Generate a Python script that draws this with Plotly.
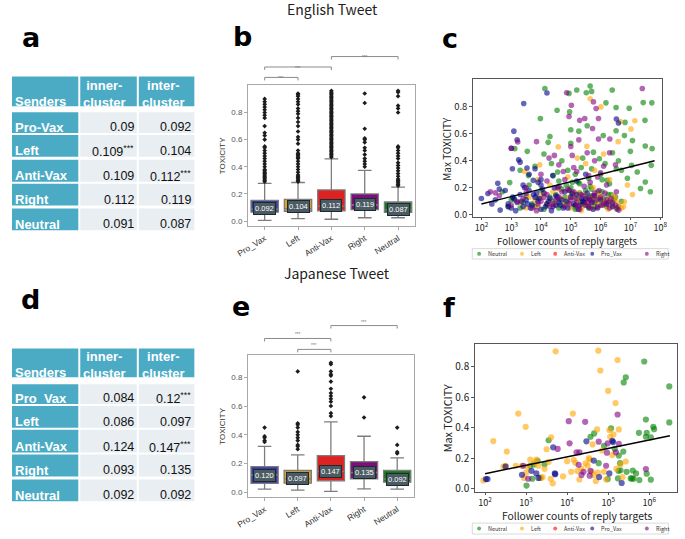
import plotly.graph_objects as go

W, H = 685, 539
def px(x): return x / W
def py(y): return 1 - y / H

# ---------------- data ----------------
senders_en = ["Pro-Vax", "Left", "Anti-Vax", "Right", "Neutral"]
inner_en = [0.09, 0.109, 0.109, 0.112, 0.091]
inner_en_sig = ["", "***", "", "", ""]
inter_en = [0.092, 0.104, 0.112, 0.119, 0.087]
inter_en_sig = ["", "", "***", "", ""]

senders_ja = ["Pro_Vax", "Left", "Anti-Vax", "Right", "Neutral"]
inner_ja = [0.084, 0.086, 0.124, 0.093, 0.092]
inner_ja_sig = ["", "", "", "", ""]
inter_ja = [0.12, 0.097, 0.147, 0.135, 0.092]
inter_ja_sig = ["***", "", "***", "", ""]

groups = ["Pro_Vax", "Left", "Anti-Vax", "Right", "Neutral"]
box_colors = ["#3a3aa8", "#e6a11f", "#dd2222", "#7b107b", "#0f780f"]

en_lower = [0.005, 0.017, 0.013, 0.024, 0.024]
en_q1 = [0.065, 0.072, 0.075, 0.084, 0.063]
en_median = [0.087, 0.092, 0.110, 0.118, 0.082]
en_q3 = [0.152, 0.159, 0.229, 0.200, 0.140]
en_upper = [0.277, 0.284, 0.458, 0.373, 0.250]
en_mean = [0.092, 0.104, 0.112, 0.119, 0.087]

ja_lower = [0.023, 0.016, 0.007, 0.025, 0.023]
ja_q1 = [0.062, 0.064, 0.080, 0.094, 0.071]
ja_median = [0.122, 0.094, 0.145, 0.138, 0.092]
ja_q3 = [0.179, 0.152, 0.255, 0.214, 0.152]
ja_upper = [0.320, 0.260, 0.490, 0.390, 0.240]
ja_mean = [0.120, 0.097, 0.147, 0.135, 0.092]

en_out_pro = [0.29, 0.30, 0.31, 0.32, 0.33, 0.34, 0.35, 0.36, 0.37, 0.38, 0.40, 0.42, 0.44, 0.46, 0.48,
              0.50, 0.52, 0.54, 0.55, 0.60, 0.63, 0.65, 0.70, 0.76, 0.78, 0.80, 0.82, 0.84, 0.86, 0.88, 0.90]
en_out_left = [0.29, 0.30, 0.31, 0.32, 0.33, 0.34, 0.36, 0.38, 0.40, 0.42, 0.44, 0.46, 0.47, 0.48, 0.49,
               0.50, 0.52, 0.57, 0.60, 0.62, 0.66, 0.70, 0.73, 0.76, 0.79, 0.81, 0.83, 0.86, 0.88, 0.90,
               0.92, 0.93, 0.94]
en_out_anti = [0.47, 0.48, 0.49, 0.50, 0.51, 0.52, 0.53, 0.54, 0.55, 0.56, 0.57, 0.58, 0.59, 0.60, 0.61,
               0.62, 0.63, 0.64, 0.65, 0.66, 0.67, 0.68, 0.69, 0.70, 0.71, 0.72, 0.73, 0.74, 0.75, 0.76,
               0.77, 0.78, 0.79, 0.80, 0.81, 0.82, 0.83, 0.84, 0.85, 0.86, 0.87, 0.88, 0.89, 0.90, 0.91,
               0.92, 0.93, 0.94, 0.95, 0.96]
en_out_right = [0.40, 0.42, 0.44, 0.46, 0.49, 0.52, 0.54, 0.58, 0.60, 0.61, 0.68, 0.87, 0.94]
en_out_neutral = [0.26, 0.27, 0.28, 0.29, 0.30, 0.31, 0.33, 0.35, 0.37, 0.39, 0.41, 0.43, 0.46, 0.48,
                  0.50, 0.52, 0.54, 0.55, 0.80, 0.83, 0.85, 0.92, 0.95, 0.96]

ja_out_pro = [0.35, 0.36, 0.38, 0.39, 0.45]
ja_out_left = [0.30, 0.32, 0.33, 0.36, 0.38, 0.40, 0.42, 0.45, 0.47, 0.48, 0.84]
ja_out_anti = [0.53, 0.55, 0.60, 0.63, 0.65, 0.67, 0.69, 0.72, 0.77, 0.81, 0.82, 0.84, 0.89, 0.90]
ja_out_right = [0.52, 0.66]
ja_out_neutral = [0.27, 0.28, 0.33, 0.45]

# scatter: log10(follower count) and max toxicity
scat_names = ["Neutral", "Left", "Anti-Vax", "Pro_Vax", "Right"]
scat_colors = ["#008000", "#ffa500", "#ff0000", "#00008b", "#800080"]

en_neutral_lx = [4.13, 5.65, 5.2, 6.39, 4.94, 5.52, 5.7, 7.43, 7.72, 6.96, 4.54, 6.18, 3.98, 4.96, 5.0, 5.27,
                 6.52, 6.82, 7.49, 7.73, 7.5, 7.7, 7.67, 7.23, 7.34, 7.5, 6.53, 5.96, 5.76, 4.56, 4.24,
                 3.54, 3.12, 2.95, 3.58, 6.09, 6.52, 6.8, 7.07, 7.04, 6.22, 5.55, 5.0, 4.3, 4.1, 3.3, 3.8,
                 4.7, 5.35, 5.6, 6.0, 6.4, 6.6, 7.0, 6.9, 5.3, 4.4, 2.7, 3.0,
                 2.9, 3.1, 3.3, 3.5, 3.7, 3.9, 4.0, 4.2, 4.4, 4.5, 4.6, 4.8, 4.9, 5.0, 5.1, 5.2, 5.3, 5.4,
                 5.5, 5.6, 5.7, 5.8, 5.9, 6.0, 6.1, 6.2, 6.3, 6.4, 6.5, 6.6, 3.6, 4.1, 4.7, 5.25, 5.45,
                 5.65, 5.85, 6.05, 6.25, 6.45,
                 3.4, 3.8, 4.3, 4.6, 4.75, 5.05, 5.15, 5.35, 5.5, 5.62, 5.8, 5.95, 6.15, 6.35, 6.55, 6.7,
                 4.85, 5.7, 6.05, 6.3, 4.9, 5.15, 5.4, 5.7, 6.15, 5.05, 4.6, 6.7, 4.35]
en_neutral_y = [0.937, 0.955, 0.925, 0.925, 0.90, 0.905, 0.915, 0.832, 0.83, 0.79, 0.775, 0.83, 0.714, 0.763,
                0.63, 0.62, 0.795, 0.685, 0.70, 0.49, 0.51, 0.366, 0.17, 0.317, 0.194, 0.243, 0.341, 0.415,
                0.464, 0.317, 0.537, 0.47, 0.49, 0.238, 0.29, 0.587, 0.623, 0.587, 0.55, 0.366, 0.255, 0.66,
                0.53, 0.58, 0.45, 0.33, 0.36, 0.40, 0.35, 0.27, 0.30, 0.46, 0.40, 0.47, 0.27, 0.23, 0.29,
                0.17, 0.11,
                0.06, 0.11, 0.05, 0.14, 0.08, 0.12, 0.18, 0.07, 0.10, 0.15, 0.05, 0.13, 0.09, 0.20, 0.06,
                0.12, 0.16, 0.08, 0.11, 0.05, 0.14, 0.09, 0.17, 0.07, 0.12, 0.06, 0.10, 0.08, 0.13, 0.06,
                0.22, 0.04, 0.19, 0.24, 0.07, 0.21, 0.10, 0.26, 0.15, 0.11,
                0.09, 0.06, 0.13, 0.11, 0.07, 0.15, 0.04, 0.10, 0.18, 0.13, 0.06, 0.12, 0.09, 0.15, 0.04,
                0.10, 0.22, 0.19, 0.17, 0.23, 0.33, 0.30, 0.42, 0.34, 0.38, 0.24, 0.25, 0.33, 0.38]

en_left_lx = [5.65, 6.01, 6.66, 7.15, 7.02, 6.59, 5.54, 4.58, 3.96, 3.45, 7.07, 6.8, 6.77, 5.22, 5.8, 4.9,
              6.3, 4.3, 5.5, 6.1, 3.9, 6.9,
              3.3, 3.6, 3.9, 4.1, 4.3, 4.5, 4.7, 4.9, 5.0, 5.1, 5.2, 5.3, 5.4, 5.5, 5.6, 5.7, 5.8, 5.9,
              6.0, 6.1, 6.2, 6.3, 6.4, 6.5, 6.6, 6.7, 4.6, 5.05, 5.35, 5.75,
              3.5, 3.8, 4.0, 4.2, 4.4, 4.8, 4.95, 5.15, 5.25, 5.45, 5.65, 5.85, 6.05, 6.25, 6.45]
en_left_y = [0.861, 0.80, 0.692, 0.697, 0.636, 0.542, 0.508, 0.503, 0.37, 0.32, 0.15, 0.096, 0.059, 0.42,
             0.33, 0.28, 0.26, 0.22, 0.38, 0.45, 0.26, 0.22,
             0.09, 0.13, 0.06, 0.16, 0.10, 0.07, 0.12, 0.18, 0.05, 0.14, 0.09, 0.11, 0.06, 0.15, 0.08,
             0.12, 0.05, 0.10, 0.14, 0.07, 0.09, 0.12, 0.06, 0.11, 0.08, 0.05, 0.19, 0.17, 0.03, 0.20,
             0.05, 0.11, 0.14, 0.08, 0.17, 0.09, 0.13, 0.07, 0.16, 0.10, 0.06, 0.15, 0.11, 0.04, 0.14]

en_anti_lx = []
en_anti_y = []

en_pro_lx = [4.2, 3.42, 3.09, 3.2, 3.0, 3.25, 3.3, 3.04, 3.53, 3.8, 2.55, 2.22, 2.0, 2.47, 2.63, 6.53, 3.74,
             3.9, 4.4, 2.6, 3.6, 4.0, 3.4, 2.8, 5.5, 6.6, 4.6, 5.2, 2.35, 2.9,
             2.9, 3.0, 3.1, 3.2, 3.3, 3.4, 3.5, 3.6, 3.7, 3.8, 3.9, 4.0, 4.1, 4.2, 4.3, 4.4, 4.5, 4.6,
             4.7, 4.8, 4.9, 5.0, 5.1, 5.2, 5.3, 5.4, 5.5, 5.6, 5.7, 5.8, 5.9, 6.0, 6.2, 6.4, 3.15, 3.45,
             3.75, 4.05, 4.35, 4.65, 4.95, 5.25, 5.55,
             3.05, 3.35, 3.55, 3.65, 3.85, 3.95, 4.15, 4.25, 4.45, 4.55, 4.75, 4.85, 5.05, 5.15, 5.35,
             5.45, 5.65, 5.75, 4.0, 4.5]
en_pro_y = [0.903, 0.825, 0.62, 0.555, 0.493, 0.407, 0.39, 0.341, 0.346, 0.341, 0.233, 0.157, 0.12, 0.11,
            0.034, 0.71, 0.255, 0.24, 0.29, 0.19, 0.30, 0.26, 0.22, 0.18, 0.30, 0.68, 0.21, 0.25, 0.08, 0.06,
            0.08, 0.05, 0.12, 0.09, 0.15, 0.06, 0.11, 0.18, 0.07, 0.13, 0.10, 0.04, 0.16, 0.08, 0.12, 0.06,
            0.14, 0.09, 0.11, 0.17, 0.05, 0.13, 0.08, 0.15, 0.07, 0.10, 0.12, 0.06, 0.09, 0.14, 0.05, 0.11,
            0.08, 0.06, 0.03, 0.20, 0.15, 0.19, 0.03, 0.07, 0.18, 0.04, 0.16,
            0.13, 0.10, 0.08, 0.05, 0.16, 0.12, 0.06, 0.10, 0.20, 0.13, 0.05, 0.10, 0.16, 0.07, 0.12,
            0.09, 0.11, 0.04, 0.22, 0.07]

en_right_lx = [7.4, 4.86, 5.02, 5.76, 5.85, 5.93, 4.94, 5.3, 5.47, 5.73, 5.93, 6.31, 5.27, 5.0, 5.55, 6.3,
               3.01, 3.22, 4.27, 2.47, 4.45, 6.53, 6.61, 3.85, 4.6, 5.1, 5.8, 6.0, 6.5, 4.0, 3.5, 5.6, 4.8,
               6.2, 2.3,
               2.6, 3.0, 3.4, 3.7, 4.0, 4.2, 4.4, 4.6, 4.8, 5.0, 5.1, 5.2, 5.3, 5.4, 5.5, 5.6, 5.7, 5.8,
               5.9, 6.0, 6.1, 6.2, 6.3, 6.4, 6.5, 4.9, 5.45, 5.95, 3.85, 4.55,
               3.2, 3.5, 3.9, 4.1, 4.3, 4.5, 4.7, 4.95, 5.15, 5.25, 5.35, 5.55, 5.65, 5.75, 5.85, 6.05,
               6.15, 6.25, 6.35, 6.55, 5.2, 5.65, 5.05, 4.75, 6.1, 5.9, 4.2]
en_right_y = [0.937, 0.905, 0.812, 0.837, 0.788, 0.714, 0.729, 0.70, 0.714, 0.64, 0.562, 0.562, 0.555, 0.506,
              0.459, 0.46, 0.493, 0.54, 0.42, 0.162, 0.44, 0.17, 0.034, 0.542, 0.37, 0.35, 0.40, 0.31, 0.37,
              0.30, 0.20, 0.29, 0.26, 0.22, 0.17,
              0.14, 0.07, 0.12, 0.05, 0.10, 0.15, 0.08, 0.13, 0.06, 0.11, 0.17, 0.09, 0.04, 0.14, 0.07, 0.12,
              0.10, 0.16, 0.06, 0.13, 0.08, 0.11, 0.05, 0.09, 0.07, 0.19, 0.21, 0.18, 0.03, 0.20,
              0.10, 0.16, 0.08, 0.13, 0.06, 0.11, 0.17, 0.08, 0.12, 0.06, 0.15, 0.09, 0.05, 0.14, 0.11,
              0.07, 0.16, 0.09, 0.12, 0.05, 0.32, 0.24, 0.44, 0.32, 0.36, 0.28, 0.25]

ja_neutral_lx = [5.88, 5.43, 5.38, 6.49, 5.92, 6.49, 6.1, 6.12, 5.75, 5.94, 5.92, 6.04, 4.66, 5.07, 4.57, 3.55,
                 3.01, 5.26, 5.37, 5.29, 4.99, 5.24, 5.55, 5.58, 5.62, 5.76, 6.04, 5.6, 5.68, 5.94, 4.77, 5.25,
                 3.19, 3.28, 3.15, 3.35, 3.45, 4.9, 5.16, 3.1, 5.3, 5.45]
ja_neutral_y = [0.833, 0.73, 0.696, 0.67, 0.453, 0.434, 0.405, 0.39, 0.366, 0.366, 0.34, 0.336, 0.362, 0.395,
                0.34, 0.317, 0.02, 0.217, 0.243, 0.167, 0.063, 0.067, 0.067, 0.067, 0.065, 0.056, 0.059,
                0.119, 0.10, 0.098, 0.167, 0.117, 0.158, 0.182, 0.065, 0.07, 0.16, 0.28, 0.26, 0.15, 0.12, 0.11]

ja_left_lx = [3.72, 4.76, 5.23, 4.81, 5.0, 5.18, 2.81, 4.14, 2.99, 2.2, 2.53, 3.61, 4.73, 5.03, 5.26, 5.05,
              5.13, 3.5, 5.43, 4.16, 4.53, 1.96, 2.5, 2.75, 2.9, 3.0, 3.1, 3.2, 3.3, 3.4, 3.45, 3.55, 3.6,
              3.65, 3.9, 4.0, 4.1, 4.2, 4.25, 4.3, 4.45, 4.5, 4.55, 4.6, 4.65, 4.7, 4.75, 4.85, 4.9, 4.95,
              5.1, 5.2, 5.3, 5.35, 3.25, 2.95, 3.05, 3.35, 2.45, 4.35, 4.62]
ja_left_y = [0.90, 0.904, 0.843, 0.774, 0.64, 0.561, 0.492, 0.492, 0.405, 0.312, 0.243, 0.336, 0.388, 0.384,
             0.388, 0.34, 0.355, 0.258, 0.178, 0.189, 0.20, 0.054, 0.15, 0.15, 0.15, 0.105, 0.19, 0.17, 0.15,
             0.075, 0.13, 0.175, 0.065, 0.035, 0.08, 0.18, 0.11, 0.17, 0.115, 0.06, 0.165, 0.15, 0.19, 0.11,
             0.09, 0.05, 0.105, 0.25, 0.11, 0.06, 0.22, 0.13, 0.16, 0.075, 0.19, 0.07, 0.14, 0.07, 0.145,
             0.13, 0.29]

ja_anti_lx = []
ja_anti_y = []

ja_pro_lx = [2.02, 2.06, 2.5, 2.9, 3.13, 3.25, 3.66, 3.7, 3.71, 4.47, 4.65, 4.78, 5.1, 5.12, 5.03, 5.33, 3.3]
ja_pro_y = [0.063, 0.063, 0.145, 0.091, 0.117, 0.10, 0.271, 0.10, 0.095, 0.31, 0.184, 0.076, 0.314, 0.305,
            0.10, 0.037, 0.07]

ja_right_lx = [4.04, 4.44, 5.23, 4.06, 3.77, 4.23, 4.3, 4.77, 4.99, 4.97, 5.19, 5.26, 5.92, 4.95, 3.05, 4.28,
               4.57, 4.55, 2.93, 4.35, 4.4]
ja_right_y = [0.442, 0.438, 0.486, 0.297, 0.26, 0.238, 0.238, 0.308, 0.297, 0.236, 0.238, 0.293, 0.128, 0.15,
              0.065, 0.156, 0.117, 0.085, 0.15, 0.09, 0.11]

fit_en_x = [1e2, 6.5e7]
fit_en_y = [0.079, 0.40]
fit_ja_x = [1e2, 3.2e6]
fit_ja_y = [0.098, 0.347]

en_tick_exps = [2, 3, 4, 5, 6, 7, 8]
ja_tick_exps = [2, 3, 4, 5, 6]
ja_y_ticks = [0, 0.2, 0.4, 0.6, 0.8]
tox_ticks = [0, 0.2, 0.4, 0.6, 0.8]

# ---------------- figure ----------------
TEAL = "#4babc5"
LIGHT = "#e8eef2"
TFONT = "Liberation Sans"
SFONT = "Noto Sans CJK JP"

fig = go.Figure()
shapes, ann = [], []

def rect(x0, y0, x1, y1, color, lw=0, lc=None):
    shapes.append(dict(type="rect", xref="paper", yref="paper", x0=px(x0), x1=px(x1),
                       y0=py(y1), y1=py(y0), fillcolor=color,
                       line=dict(width=lw, color=lc or color), layer="below"))

def text(x, y, s, size, color="#000", xanchor="center", yanchor="middle", family=TFONT, angle=0):
    ann.append(dict(xref="paper", yref="paper", x=px(x), y=py(y), text=s, showarrow=False,
                    xanchor=xanchor, yanchor=yanchor, textangle=angle,
                    font=dict(size=size, color=color, family=family)))

# ---- tables ----
cols_x = [(0, 68), (70, 128), (130, 187)]

def table(head, rows, senders, inner, inner_sig, inter, inter_sig):
    for (x0, x1) in cols_x:
        rect(x0, head[0], x1, head[1], TEAL)
    text(1, head[1] - 4.5, "<b>Senders</b>", 13, "white", "left")
    text(71, head[1] - 12.5, "<b>inner-<br>cluster</b>", 13, "white", "left")
    text(131, head[1] - 12.5, "<b>inter-<br>cluster</b>", 13, "white", "left")
    for i, (t, b) in enumerate(rows):
        rect(cols_x[0][0], t, cols_x[0][1], b, TEAL)
        rect(cols_x[1][0], t, cols_x[1][1], b, LIGHT)
        rect(cols_x[2][0], t, cols_x[2][1], b, LIGHT)
        yc = b - 6
        text(1, yc, "<b>%s</b>" % senders[i], 13, "white", "left")
        s1 = "%g" % inner[i] + ("<sup>%s</sup>" % inner_sig[i] if inner_sig[i] else "")
        s2 = "%g" % inter[i] + ("<sup>%s</sup>" % inter_sig[i] if inter_sig[i] else "")
        text(127.5, yc, s1, 12.5, "#111", "right")
        text(186, yc, s2, 12.5, "#111", "right")

table((77, 107), [(113, 134), (136, 158), (161, 183), (185, 207), (210, 232)],
      senders_en, inner_en, inner_en_sig, inter_en, inter_en_sig)
table((351, 380), [(387, 407), (409, 431), (433, 456), (458, 480), (483, 505)],
      senders_ja, inner_ja, inner_ja_sig, inter_ja, inter_ja_sig)

# ---- box plots ----
def boxes(xa, ya, lower, q1, med, q3, upper, means, outs):
    for i, g in enumerate(groups):
        fig.add_trace(go.Box(x=[g], q1=[q1[i]], median=[med[i]], q3=[q3[i]], lowerfence=[lower[i]],
                             upperfence=[upper[i]], fillcolor=box_colors[i], width=0.82,
                             line=dict(color="#7d7d7d", width=1.3), boxpoints=False,
                             xaxis=xa, yaxis=ya, showlegend=False, hoverinfo="skip"))
        fig.add_trace(go.Scatter(x=[g] * len(outs[i]), y=outs[i], mode="markers",
                                 marker=dict(symbol="diamond", size=3.6, color="#1c1c1c"),
                                 xaxis=xa, yaxis=ya, showlegend=False, hoverinfo="skip"))
        ann.append(dict(xref=xa, yref=ya, x=g, y=means[i], text="%.3f" % means[i],
                        showarrow=False, bgcolor="#4b5b63", bordercolor="#1d2a30", borderwidth=1,
                        borderpad=1, font=dict(size=7.5, color="white", family=TFONT)))

boxes("x", "y", en_lower, en_q1, en_median, en_q3, en_upper, en_mean,
      [en_out_pro, en_out_left, en_out_anti, en_out_right, en_out_neutral])
boxes("x2", "y2", ja_lower, ja_q1, ja_median, ja_q3, ja_upper, ja_mean,
      [ja_out_pro, ja_out_left, ja_out_anti, ja_out_right, ja_out_neutral])

def bracket(xa, i0, i1, ypix):
    for (a0, b0, a1, b1) in [(i0, ypix, i1, ypix), (i0, ypix, i0, ypix + 3), (i1, ypix, i1, ypix + 3)]:
        shapes.append(dict(type="line", xref=xa, yref="paper", x0=a0, x1=a1, y0=py(b0), y1=py(b1),
                           line=dict(color="#8a8a8a", width=1)))
    ann.append(dict(xref=xa, yref="paper", x=(i0 + i1) / 2, y=py(ypix - 3.5), text="***",
                    showarrow=False, font=dict(size=4.5, color="#777", family=TFONT)))

bracket("x", 0, 1, 78)
bracket("x", 0, 2, 67.5)
bracket("x", 2, 4, 57)
bracket("x2", 1, 2, 352)
bracket("x2", 0, 2, 341)
bracket("x2", 2, 4, 328)

# ---- scatter plots ----
en_sets = [(en_neutral_lx, en_neutral_y), (en_left_lx, en_left_y), (en_anti_lx, en_anti_y),
           (en_pro_lx, en_pro_y), (en_right_lx, en_right_y)]
ja_sets = [(ja_neutral_lx, ja_neutral_y), (ja_left_lx, ja_left_y), (ja_anti_lx, ja_anti_y),
           (ja_pro_lx, ja_pro_y), (ja_right_lx, ja_right_y)]
for (xa, ya, sets, msize) in [("x3", "y3", en_sets, 5.6), ("x4", "y4", ja_sets, 6.2)]:
    for k, (lx, yy) in enumerate(sets):
        fig.add_trace(go.Scatter(x=[10 ** v for v in lx], y=yy, mode="markers", name=scat_names[k],
                                 marker=dict(size=msize, color=scat_colors[k], opacity=0.6, line=dict(width=0)),
                                 xaxis=xa, yaxis=ya, showlegend=False, hoverinfo="skip"))
fig.add_trace(go.Scatter(x=fit_en_x, y=fit_en_y, mode="lines", line=dict(color="black", width=1.4),
                         xaxis="x3", yaxis="y3", showlegend=False, hoverinfo="skip"))
fig.add_trace(go.Scatter(x=fit_ja_x, y=fit_ja_y, mode="lines", line=dict(color="black", width=1.4),
                         xaxis="x4", yaxis="y4", showlegend=False, hoverinfo="skip"))

# scatter axis titles
text(570, 243, "Follower counts of reply targets", 9.6, "#222", family=SFONT)
text(446, 150, "Max TOXICITY", 10, "#222", family=SFONT, angle=-90)
text(579, 519.5, "Follower counts of reply targets", 10.3, "#222", family=SFONT)
text(446, 421.5, "Max TOXICITY", 10.8, "#222", family=SFONT, angle=-90)

# manual legends
leg_marker_x = [479, 523, 557, 595, 651]
for (ytop, ybot) in [(250.5, 261), (527, 538)]:
    shapes.append(dict(type="rect", xref="paper", yref="paper", x0=px(472), x1=px(673),
                       y0=py(ybot), y1=py(ytop), line=dict(color="#d0d0d0", width=0.8)))
    yc = (ytop + ybot) / 2
    for k, name in enumerate(scat_names):
        cx = leg_marker_x[k]
        shapes.append(dict(type="circle", xref="paper", yref="paper", x0=px(cx - 2), x1=px(cx + 2),
                           y0=py(yc + 2), y1=py(yc - 2), fillcolor=scat_colors[k], opacity=0.6,
                           line=dict(width=0)))
        text(cx + 7, yc, name, 5.5, "#333", "left", family=SFONT)

# titles and panel letters
text(329, 9.5, "English Tweet", 14, "#222", family=SFONT)
text(333, 275, "Japanese Tweet", 14, "#222", family=SFONT)
for (lt, x, y) in [("a", 19, 38), ("b", 236, 37), ("c", 449, 39), ("d", 19, 302), ("e", 235, 309),
                   ("f", 448, 310)]:
    text(x, y, "<b>%s</b>" % lt, 27, "#000", family="DejaVu Sans")

def sup_labels(exps):
    return ["10<sup>%d</sup>" % e for e in exps]

box_x = dict(type="category", categoryorder="array", categoryarray=groups, range=[-0.5, 4.5],
             tickangle=-32, tickfont=dict(size=8.5, color="#333", family=TFONT), showline=True,
             mirror=True, linecolor="#a8a8a8", ticks="outside", ticklen=3, tickcolor="#a8a8a8",
             showgrid=False, zeroline=False)
box_y = dict(tickvals=tox_ticks, tickformat=".1f",
             tickfont=dict(size=8, color="#555", family=TFONT), showline=True, mirror=True,
             linecolor="#a8a8a8", ticks="outside", ticklen=3, tickcolor="#a8a8a8", showgrid=False,
             zeroline=False, title=dict(text="TOXICITY", font=dict(size=8, color="#333", family=TFONT), standoff=4))
sc_x = dict(type="log", tickfont=dict(size=9, color="#222", family=SFONT), showline=True, mirror=True,
            linecolor="#555", ticks="outside", ticklen=2, tickcolor="#555", showgrid=False, zeroline=False)
sc_y = dict(tickvals=ja_y_ticks, tickformat=".1f",
            tickfont=dict(size=9.5, color="#222", family=SFONT), showline=True, mirror=True,
            linecolor="#555", ticks="outside", ticklen=3, tickcolor="#555", showgrid=False, zeroline=False)

fig.update_layout(
    width=W, height=H, autosize=False, margin=dict(l=0, r=0, t=0, b=0),
    paper_bgcolor="white", plot_bgcolor="white", showlegend=False,
    xaxis=dict(box_x, domain=[px(242), px(413)], anchor="y"),
    yaxis=dict(box_y, domain=[py(228), py(86)], anchor="x", range=[-0.039, 1.0]),
    xaxis2=dict(box_x, domain=[px(242), px(412)], anchor="y2"),
    yaxis2=dict(box_y, domain=[py(501), py(358)], anchor="x2", range=[-0.034, 0.952]),
    xaxis3=dict(sc_x, domain=[px(473), px(667)], anchor="y3", range=[1.727, 8.076],
                tickvals=[10 ** e for e in en_tick_exps], ticktext=sup_labels(en_tick_exps)),
    yaxis3=dict(sc_y, domain=[py(219), py(80)], anchor="x3", range=[-0.02, 1.004]),
    xaxis4=dict(sc_x, domain=[px(475), px(682)], anchor="y4", range=[1.76, 6.68],
                tickvals=[10 ** e for e in ja_tick_exps], ticktext=sup_labels(ja_tick_exps)),
    yaxis4=dict(sc_y, domain=[py(496), py(347)], anchor="x4", range=[-0.024, 0.945],
                tickfont=dict(size=10, color="#222", family=SFONT)),
    shapes=shapes, annotations=ann,
)

fig.write_html("out.html")
